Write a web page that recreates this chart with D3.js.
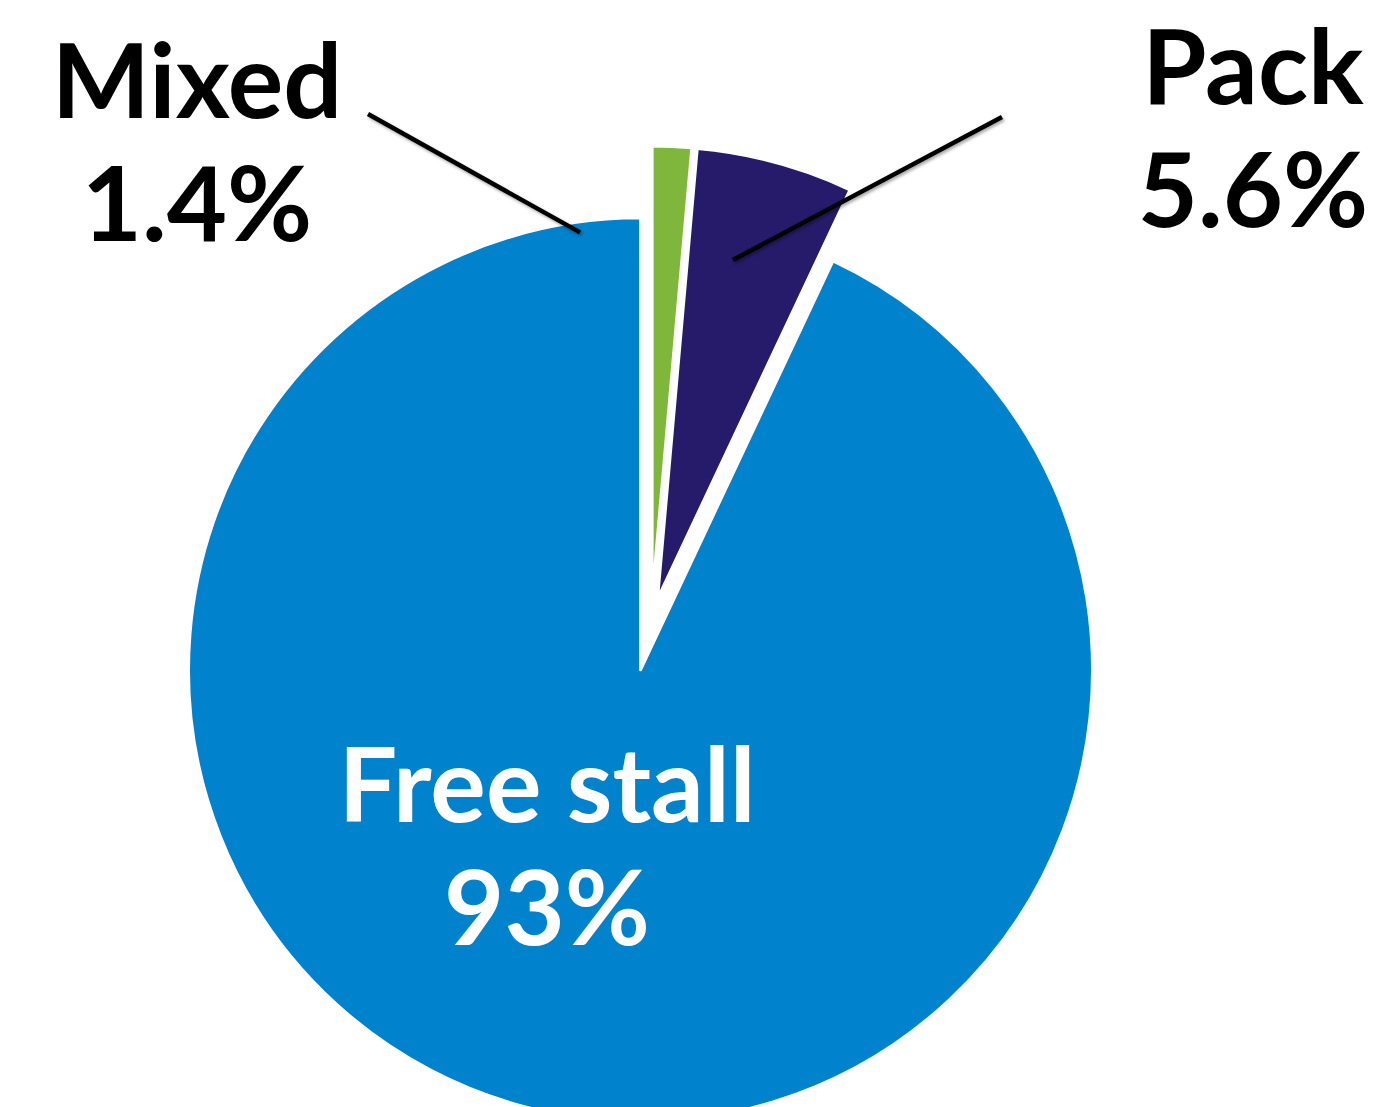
<!DOCTYPE html>
<html>
<head>
<meta charset="utf-8">
<script src="https://cdn.jsdelivr.net/npm/d3@7"></script>
<style>
  html, body { margin: 0; padding: 0; background: #ffffff; }
  svg { display: block; }
  text { font-family: "Lato", "DejaVu Sans", sans-serif; font-weight: 700; }
</style>
</head>
<body>
<svg id="chart" width="1385" height="1107"></svg>
<script>
// Housing type shares (%)
const categories = ["Mixed", "Pack", "Free stall"];
const shares = [1.4, 5.6, 93];

// Slice colours, in category order
const colors = ["#7EB73C", "#261A6A", "#0082CC"];

const width = 1385, height = 1107;
const radius = 452;
const centre = [651, 623];
// how far each slice is pulled out from the centre, along its bisector (px)
const explode = { "Mixed": 25, "Pack": 25, "Free stall": 48 };

// label placement: text anchor point, colour, and leader line
const labelLayout = {
  "Mixed":      { x: 197, y: 118, fill: "#000", leader: { from: [368, 114], angle: -10.3, r: 397 } },
  "Pack":       { x: 1253, y: 104, fill: "#000", leader: { from: [1002, 117], angle: 12.7, r: 372 } },
  "Free stall": { x: 547, y: 822, fill: "#fff", leader: null }
};
const fontSize = 104;
const lineGap = 123;

const data = categories.map((c, i) => ({ category: c, value: shares[i], color: colors[i] }));

const svg = d3.select("#chart");
svg.append("rect").attr("width", width).attr("height", height).attr("fill", "#fff");

const defs = svg.append("defs");
const shadow = defs.append("filter").attr("id", "lineShadow")
  .attr("x", "-20%").attr("y", "-20%").attr("width", "140%").attr("height", "140%");
shadow.append("feDropShadow")
  .attr("dx", 1.5).attr("dy", 2).attr("stdDeviation", 1.6)
  .attr("flood-color", "#000").attr("flood-opacity", 0.35);

const pie = d3.pie().sort(null).value(d => d.value).startAngle(0).endAngle(2 * Math.PI);
const arc = d3.arc().innerRadius(0).outerRadius(radius);
const arcs = pie(data);

const g = svg.append("g").attr("transform", `translate(${centre[0]},${centre[1]})`);

function offsetOf(a) {
  const mid = (a.startAngle + a.endAngle) / 2;
  const e = explode[a.data.category];
  return [e * Math.sin(mid), -e * Math.cos(mid)];
}

g.selectAll("path.slice")
  .data(arcs)
  .join("path")
  .attr("class", "slice")
  .attr("transform", a => { const o = offsetOf(a); return `translate(${o[0]},${o[1]})`; })
  .attr("d", arc)
  .attr("fill", a => a.data.color)
  .attr("stroke", "#fff")
  .attr("stroke-width", 3)
  .attr("stroke-linejoin", "round");

// leader lines from the outside labels into the pie
const leaders = svg.append("g");
arcs.forEach(a => {
  const lay = labelLayout[a.data.category];
  if (!lay.leader) return;
  const t = lay.leader.angle * Math.PI / 180;
  const x2 = centre[0] + lay.leader.r * Math.sin(t);
  const y2 = centre[1] - lay.leader.r * Math.cos(t);
  leaders.append("line")
    .attr("x1", lay.leader.from[0]).attr("y1", lay.leader.from[1])
    .attr("x2", x2).attr("y2", y2)
    .attr("stroke", "#000")
    .attr("stroke-width", 4.5)
    .attr("filter", "url(#lineShadow)");
});

// category name and share
const fmt = v => `${v}%`;
const labels = svg.append("g");
arcs.forEach(a => {
  const lay = labelLayout[a.data.category];
  const t = labels.append("text")
    .attr("text-anchor", "middle")
    .attr("font-size", fontSize)
    .attr("fill", lay.fill);
  t.append("tspan").attr("x", lay.x).attr("y", lay.y).text(a.data.category);
  t.append("tspan").attr("x", lay.x).attr("y", lay.y + lineGap).text(fmt(a.data.value));
});
</script>
</body>
</html>
